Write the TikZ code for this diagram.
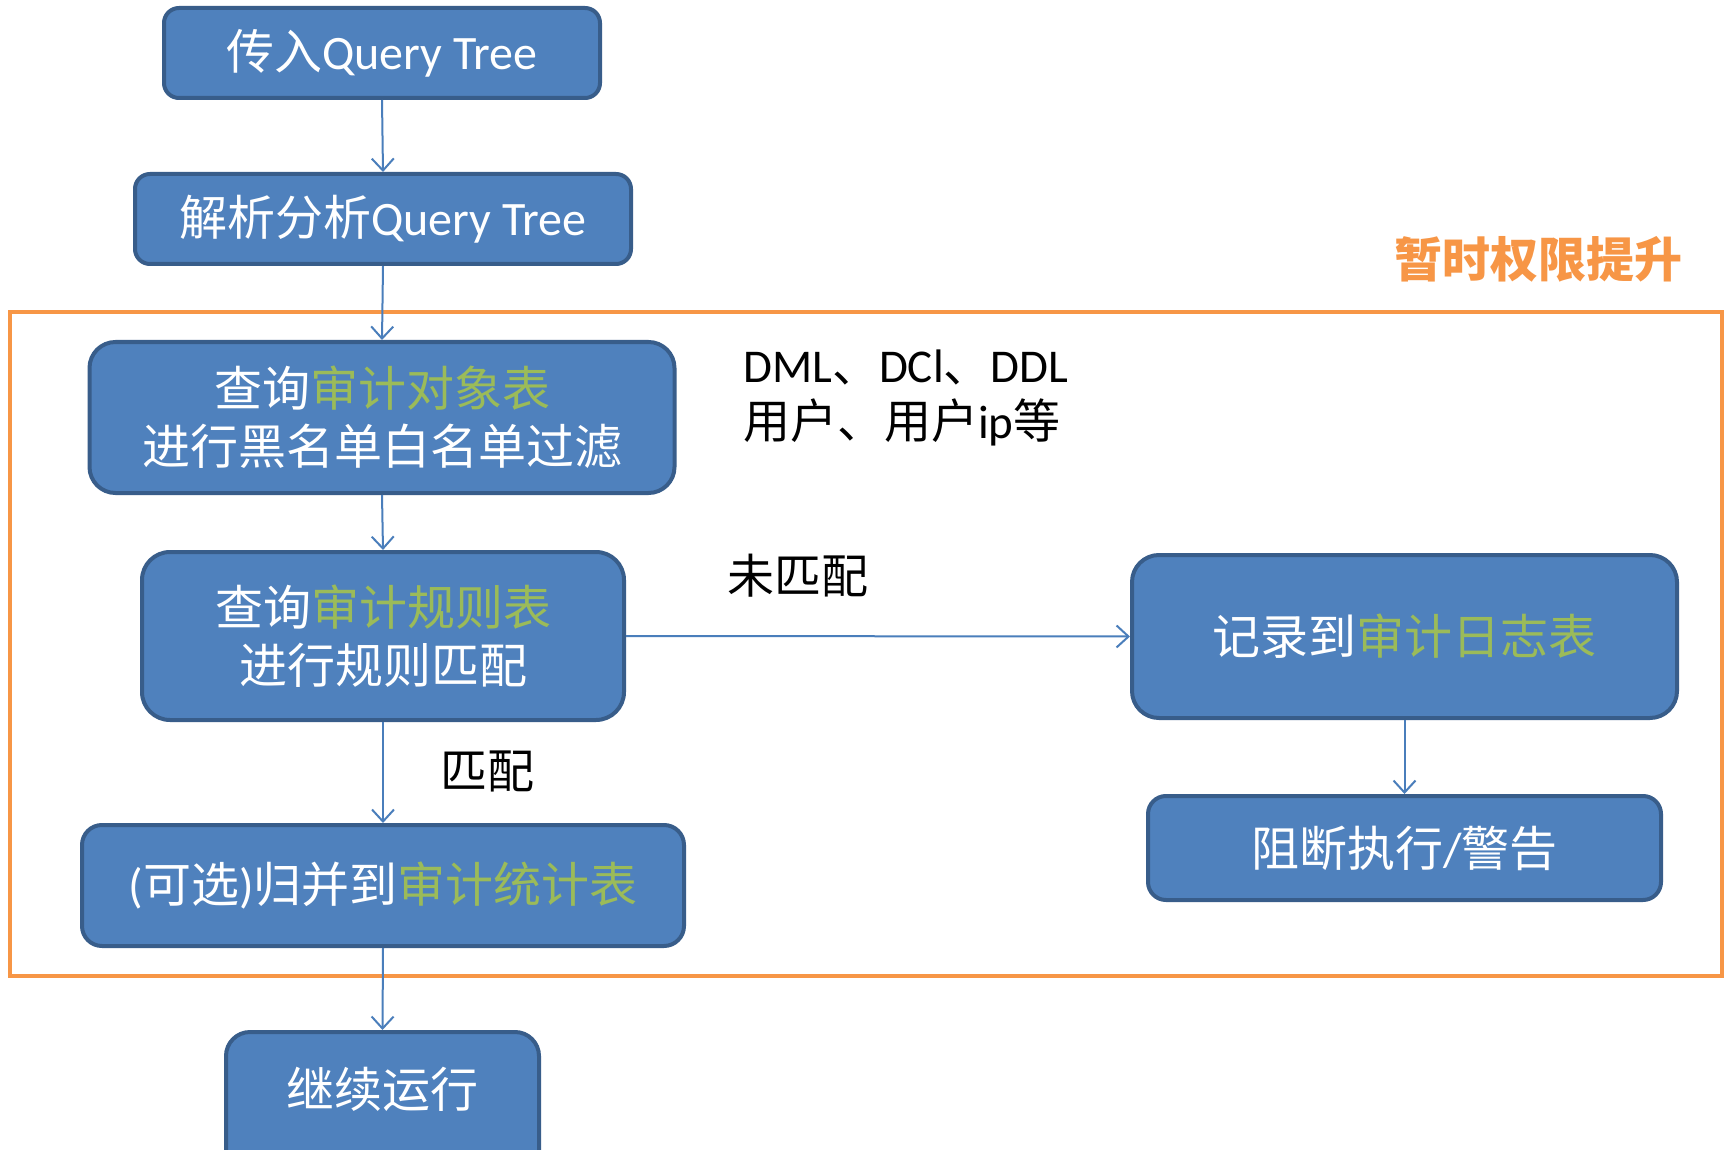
\documentclass[tikz,border=0pt]{standalone}
\usepackage{fontspec}
\setmainfont{Carlito}
\newfontfamily\cjk{Noto Sans CJK SC}
\usetikzlibrary{arrows.meta}
\definecolor{boxfill}{HTML}{4F81BD}
\definecolor{boxline}{HTML}{385D8A}
\definecolor{arrowc}{HTML}{4A7EBB}
\definecolor{hlgreen}{HTML}{9BBB59}
\definecolor{orng}{HTML}{F79646}
\newcommand{\hlt}[1]{\textcolor{hlgreen}{#1}}
\newcommand{\lat}[1]{{\rmfamily #1}}
\begin{document}
\begin{tikzpicture}[x=1pt,y=-1pt,
  box/.style={draw=boxline, fill=boxfill, line width=4pt, text=white, align=center,
    inner sep=0pt, font=\fontsize{48}{58}\selectfont\cjk},
  conn/.style={draw=arrowc, line width=2pt, -{Straight Barb[length=12pt,width=22pt,line width=2pt]}},
  lbl/.style={text=black, inner sep=0pt, font=\fontsize{47}{57}\selectfont\cjk}]
\useasboundingbox (0,0) rectangle (1727,1150);
\clip (0,0) rectangle (1727,1150);
\fill[white] (0,0) rectangle (1727,1150);

% orange frame
\draw[orng, line width=4pt] (10,312) rectangle (1722,976);
\node[text=orng, inner sep=0pt, font=\fontsize{48}{57}\selectfont\cjk\bfseries] (title) at (1538,259) {暂时权限提升};

% boxes
\node[box, minimum width=436pt, minimum height=90pt, rounded corners=15pt] (n1) at (382,53) {传入\lat{Query Tree}};
\node[box, minimum width=496pt, minimum height=90pt, rounded corners=15pt] (n2) at (383,219) {解析分析\lat{Query Tree}};
\node[box, minimum width=585pt, minimum height=151pt, rounded corners=26pt] (n3) at (382,417.5) {查询\hlt{审计对象表}\\进行黑名单白名单过滤};
\node[box, minimum width=482pt, minimum height=168pt, rounded corners=28pt] (n4) at (383,636) {查询\hlt{审计规则表}\\进行规则匹配};
\node[box, minimum width=602pt, minimum height=121pt, rounded corners=20pt] (n5) at (383,885.5) {\lat{(}可选\lat{)}归并到\hlt{审计统计表}};
\node[box, minimum width=313pt, minimum height=146pt, rounded corners=24pt, text depth=36pt] (n6) at (382.5,1105) {继续运行};
\node[box, minimum width=545pt, minimum height=163pt, rounded corners=27pt] (n7) at (1404.5,636.5) {记录到\hlt{审计日志表}};
\node[box, minimum width=513pt, minimum height=104pt, rounded corners=18pt] (n8) at (1404.5,848) {阻断执行\lat{/}警告};

% labels
\node[lbl, anchor=base west] (l1) at (743,382) {\lat{DML}、\lat{DCl}、\lat{DDL}};
\node[lbl, anchor=base west] (l2) at (743,438) {用户、用户\lat{ip}等};
\node[lbl] (l3) at (798,576) {未匹配};
\node[lbl] (l4) at (487,771) {匹配};

% connectors
\draw[conn] (n1.south) -- (n2.north);
\draw[conn] (n2.south) -- (n3.north);
\draw[conn] (n3.south) -- (n4.north);
\draw[conn] (n4.south) -- (n5.north);
\draw[conn] (n5.south) -- (n6.north);
\draw[conn] (n4.east) -- (n7.west);
\draw[conn] (n7.south) -- (n8.north);
\end{tikzpicture}
\end{document}
